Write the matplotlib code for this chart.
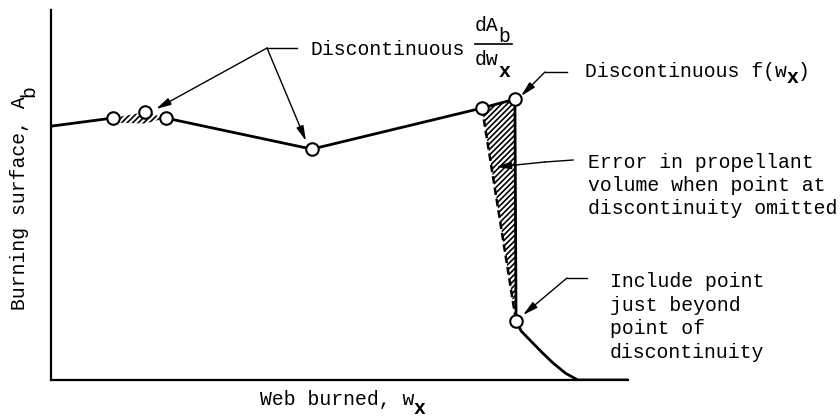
import matplotlib
matplotlib.use("Agg")
import matplotlib.pyplot as plt
from matplotlib.patches import Polygon

plt.rcParams["font.family"] = ["Liberation Mono", "DejaVu Sans Mono"]
plt.rcParams["hatch.linewidth"] = 1.2

# Burning surface vs. web burned (arbitrary units, 0-100 on both axes)
web_main = [0.0, 10.7]
area_main = [68.6, 70.8]
web_bump = [10.7, 16.3, 19.9]          # closely spaced points with a slope change
area_bump = [70.8, 72.4, 70.8]
web_mid = [19.9, 45.2, 74.7, 80.4]
area_mid = [70.8, 62.4, 73.5, 75.9]
web_drop = [80.4, 80.6]                # step discontinuity
area_drop = [75.9, 15.9]
web_tail = [80.6, 81.5, 83.0, 85.0, 87.0, 89.2, 91.3, 100.0]
area_tail = [15.9, 13.2, 10.8, 7.6, 4.6, 1.8, 0.0, 0.0]

# calculation points shown as open circles
pts_web = [10.7, 16.3, 19.9, 45.2, 74.7, 80.4, 80.6]
pts_area = [70.8, 72.4, 70.8, 62.4, 73.5, 75.9, 15.9]

W, H = 840, 419
fig = plt.figure(figsize=(W / 100, H / 100), dpi=100)
ax = fig.add_axes([51 / W, (H - 380) / H, 577 / W, 370 / H])
ax.set_xlim(0, 100)
ax.set_ylim(0, 100)
for s in ("top", "right"):
    ax.spines[s].set_visible(False)
for s in ("left", "bottom"):
    ax.spines[s].set_linewidth(1.6)
ax.set_xticks([])
ax.set_yticks([])


def P(px, py):
    """pixel position -> data coordinates"""
    return ((px - 51) / 577 * 100, (380 - py) / 370 * 100)


lw = 2.0
ax.plot(web_main, area_main, color="black", lw=lw, solid_capstyle="round")
ax.plot(web_mid, area_mid, color="black", lw=lw, solid_joinstyle="round")
ax.plot(web_drop, area_drop, color="black", lw=lw)
ax.plot(web_tail, area_tail, color="black", lw=lw)

# error areas (hatched)
bump_poly = list(zip(web_bump, area_bump)) + [(16.3, 69.3), (10.7, 69.6)]
ax.add_patch(Polygon(bump_poly, closed=True, facecolor="none", edgecolor="black",
                     lw=0, hatch="//////"))
big_poly = [(web_mid[2], area_mid[2]), (web_mid[3], area_mid[3]),
            (web_drop[1], area_drop[1])]
ax.add_patch(Polygon(big_poly, closed=True, facecolor="none", edgecolor="black",
                     lw=0, hatch="//////"))
ax.plot([web_mid[2], web_drop[1]], [area_mid[2], area_drop[1]], color="black",
        lw=1.8, ls=(0, (3, 1.6)))

ax.plot(pts_web, pts_area, ls="none", marker="o", ms=9, mfc="white",
        mec="black", mew=1.5, zorder=5)

fs = 14.2
adv = 0.6 * fs * 100 / 72          # monospace advance in pixels
arrow = dict(arrowstyle="-|>,head_length=0.9,head_width=0.22", color="black",
             lw=1.0, shrinkA=0, shrinkB=0)


def txt(px, py, s, bold=False, rot=0):
    ax.text(*P(px, py), s, fontsize=fs, ha="left", va="baseline",
            rotation=rot, rotation_mode="anchor",
            fontweight="bold" if bold else "normal", clip_on=False)


def leader(points, tip):
    xs, ys = zip(*[P(*p) for p in points])
    ax.plot(xs, ys, color="black", lw=1.0, clip_on=False)
    ax.annotate("", xy=P(*tip), xytext=P(*points[-1]), arrowprops=arrow,
                annotation_clip=False)


# Discontinuous dA_b/dw_x
ax.plot(*zip(P(267, 48), P(297, 48)), color="black", lw=1.0, clip_on=False)
ax.annotate("", xy=P(156, 109), xytext=P(267, 48), arrowprops=arrow,
            annotation_clip=False)
ax.annotate("", xy=P(306, 141), xytext=P(267, 48), arrowprops=arrow,
            annotation_clip=False)
txt(310, 55, "Discontinuous")
txt(475, 31, "dA")
txt(475 + 2 * adv, 42, "b")
ax.plot(*zip(P(475, 44), P(512, 44)), color="black", lw=1.2, clip_on=False)
txt(475, 65, "dw")
txt(475 + 2 * adv, 77, "x", bold=True)

# Discontinuous f(w_x)
leader([(567, 72), (545, 72)], (521, 96))
txt(585, 77, "Discontinuous f(w")
txt(585 + 17 * adv, 83, "x", bold=True)
txt(585 + 18 * adv, 77, ")")

# Error in propellant volume
leader([(573, 160), (545, 162)], (496, 167))
for i, line in enumerate(["Error in propellant", "volume when point at",
                          "discontinuity omitted"]):
    txt(588, 168 + 23 * i, line)

# Include point just beyond
leader([(587, 278), (567, 278)], (523, 315))
for i, line in enumerate(["Include point", "just beyond", "point of",
                          "discontinuity"]):
    txt(610, 287 + 23.7 * i, line)

# axis titles
txt(260, 405, "Web burned, w")
txt(260 + 13 * adv, 414, "x", bold=True)
txt(25, 310, "Burning surface, A", rot=90)
txt(34, 310 - 18 * adv, "b", rot=90)

fig.savefig("out.png", dpi=100)
